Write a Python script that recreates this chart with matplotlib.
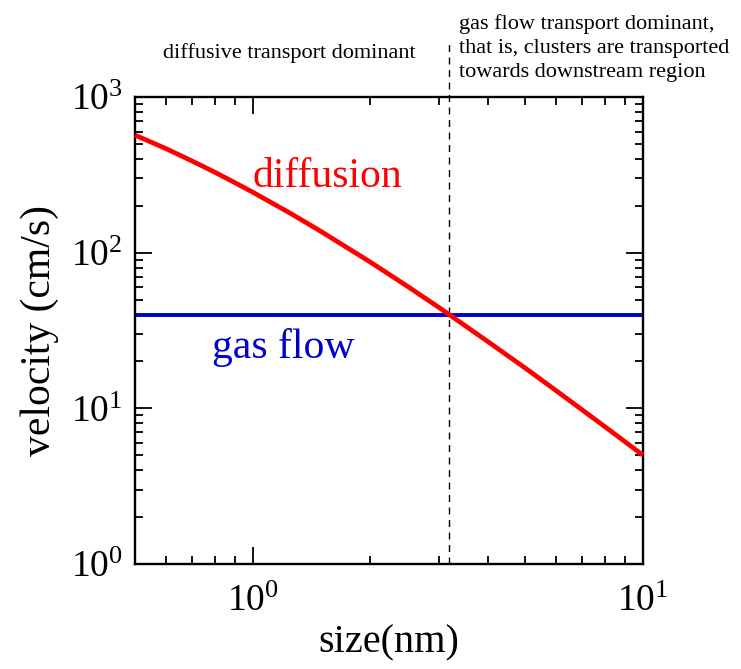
import numpy as np
import matplotlib
matplotlib.use('Agg')
import matplotlib.pyplot as plt
from matplotlib.ticker import LogLocator, LogFormatterMathtext, NullFormatter

plt.rcParams['font.family'] = ['Liberation Serif', 'DejaVu Serif']
plt.rcParams['mathtext.fontset'] = 'custom'
plt.rcParams['mathtext.rm'] = 'Liberation Serif'
plt.rcParams['mathtext.it'] = 'Liberation Serif:italic'
plt.rcParams['mathtext.default'] = 'rm'

# cluster size (nm) and diffusion velocity (cm/s)
size_nm = [0.5, 0.6, 0.7, 0.8, 0.9, 1.0, 1.25, 1.5, 2.0, 2.5, 3.0, 3.19,
           4.0, 5.0, 6.0, 7.0, 8.0, 10.0]
v_diffusion = [569, 466, 388, 329, 282, 245, 179, 136.5, 87.2, 60.5, 44.5, 40.0,
               26.9, 18.1, 12.95, 9.74, 7.60, 5.0]

# gas flow velocity (cm/s), constant over the size range
v_gas = 40.0
size_range = [0.5, 10.0]

# size where the two velocities meet
size_cross = 3.19

fig = plt.figure(figsize=(7.41, 6.69), dpi=100)
ax = fig.add_axes([0.1822, 0.157, 0.6855, 0.698])

ax.plot(size_nm, v_diffusion, color='#ff0000', lw=3.4, solid_capstyle='butt',
        solid_joinstyle='round', clip_on=False, zorder=3)
ax.plot(size_range, [v_gas, v_gas], color='#0000cc', lw=2.8, solid_capstyle='butt', zorder=2)

# boundary between the two regimes, running up into the header
ax.plot([size_cross, size_cross], [0, 1.116], transform=ax.get_xaxis_transform(),
        color='k', lw=1.0, ls=(0, (5, 4)), clip_on=False, zorder=1)

ax.set_xscale('log')
ax.set_yscale('log')
ax.set_xlim(0.5, 10)
ax.set_ylim(1, 1000)

ax.xaxis.set_major_locator(LogLocator(base=10, numticks=10))
ax.yaxis.set_major_locator(LogLocator(base=10, numticks=10))
ax.xaxis.set_minor_locator(LogLocator(base=10, subs=np.arange(2, 10), numticks=10))
ax.yaxis.set_minor_locator(LogLocator(base=10, subs=np.arange(2, 10), numticks=10))
ax.xaxis.set_major_formatter(LogFormatterMathtext())
ax.yaxis.set_major_formatter(LogFormatterMathtext())
ax.xaxis.set_minor_formatter(NullFormatter())
ax.yaxis.set_minor_formatter(NullFormatter())

for sp in ax.spines.values():
    sp.set_linewidth(1.7)
ax.tick_params(which='both', direction='in', top=True, right=True, width=1.3)
ax.tick_params(which='major', length=12, labelsize=27)
ax.tick_params(which='minor', length=6)
ax.tick_params(axis='x', which='major', pad=15)
ax.tick_params(axis='y', which='major', pad=9)

ax.set_xlabel('size(nm)', fontsize=29, labelpad=4)
ax.set_ylabel('velocity (cm/s)', fontsize=30, labelpad=8)

ax.text(0.378, 0.829, 'diffusion', color='#ff0000', fontsize=30,
        ha='center', va='center', transform=ax.transAxes)
ax.text(0.291, 0.4625, 'gas flow', color='#0000cc', fontsize=30,
        ha='center', va='center', transform=ax.transAxes)

ax.text(0.303, 1.094, 'diffusive transport dominant', fontsize=16,
        ha='center', va='center', transform=ax.transAxes)
ax.text(0.638, 1.105,
        'gas flow transport dominant,\nthat is, clusters are transported\ntowards downstream region',
        fontsize=16, ha='left', va='center', linespacing=1.35, transform=ax.transAxes)

fig.savefig('out.png', dpi=100)
